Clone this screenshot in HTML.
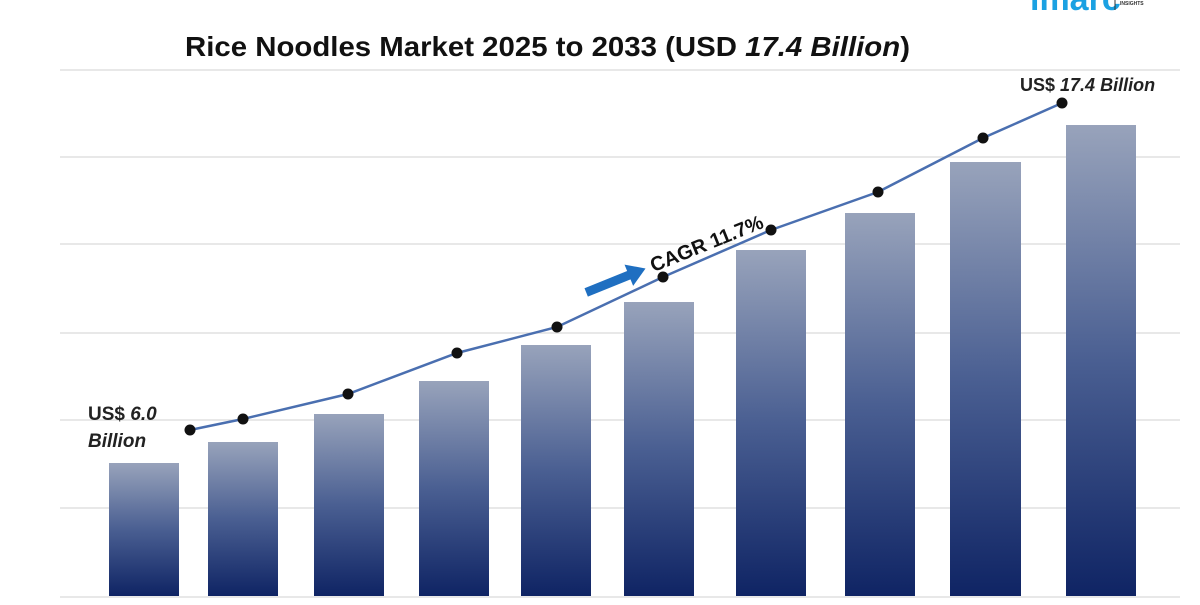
<!DOCTYPE html>
<html><head><meta charset="utf-8"><style>
body{margin:0;width:1200px;height:600px;background:#fff;overflow:hidden;font-family:"Liberation Sans",sans-serif}
</style></head><body>
<svg width="1200" height="600" xmlns="http://www.w3.org/2000/svg">
<defs><linearGradient id="g" x1="0" y1="0" x2="0" y2="1">
<stop offset="0" stop-color="#98a3bb"/><stop offset="0.5" stop-color="#4a5f92"/><stop offset="1" stop-color="#0f2464"/></linearGradient></defs>
<text x="1030" y="10" font-size="34" fill="#1ba1e2" font-weight="bold">imarc</text>
<line x1="1115" y1="0" x2="1115" y2="10" stroke="#333"/>
<text x="1120" y="5" font-size="5" fill="#333" font-weight="bold">INSIGHTS</text>
<text x="185" y="56" font-size="28" font-weight="bold" fill="#111" textLength="725" lengthAdjust="spacingAndGlyphs">Rice Noodles Market 2025 to 2033 (USD <tspan font-style="italic">17.4 Billion</tspan>)</text>
<g stroke="#d9d9d9" stroke-width="1.3">
<line x1="60" y1="70" x2="1180" y2="70"/><line x1="60" y1="157" x2="1180" y2="157"/><line x1="60" y1="244" x2="1180" y2="244"/><line x1="60" y1="333" x2="1180" y2="333"/><line x1="60" y1="420" x2="1180" y2="420"/><line x1="60" y1="508" x2="1180" y2="508"/><line x1="60" y1="597" x2="1180" y2="597"/>
</g>
<g fill="url(#g)">
<rect x="109" y="463" width="70" height="133"/><rect x="208" y="442" width="70" height="154"/><rect x="314" y="414" width="70" height="182"/><rect x="419" y="381" width="70" height="215"/><rect x="521" y="345" width="70" height="251"/><rect x="624" y="302" width="70" height="294"/><rect x="736" y="250" width="70" height="346"/><rect x="845" y="213" width="70" height="383"/><rect x="950" y="162" width="71" height="434"/><rect x="1066" y="125" width="70" height="471"/>
</g>
<polyline fill="none" stroke="#4a6fb0" stroke-width="2.5" points="190,430 243,419 348,394 457,353 557,327 663,277 771,230 878,192 983,138 1062,103"/>
<g fill="#111">
<circle cx="190" cy="430" r="5.5"/><circle cx="243" cy="419" r="5.5"/><circle cx="348" cy="394" r="5.5"/><circle cx="457" cy="353" r="5.5"/><circle cx="557" cy="327" r="5.5"/><circle cx="663" cy="277" r="5.5"/><circle cx="771" cy="230" r="5.5"/><circle cx="878" cy="192" r="5.5"/><circle cx="983" cy="138" r="5.5"/><circle cx="1062" cy="103" r="5.5"/>
</g>
<text x="88" y="420" font-size="19" font-weight="bold" fill="#222">US$ <tspan font-style="italic">6.0</tspan></text>
<text x="88" y="447" font-size="19" font-weight="bold" font-style="italic" fill="#222">Billion</text>
<text x="1020" y="91" font-size="18" font-weight="bold" fill="#222">US$ <tspan font-style="italic">17.4 Billion</tspan></text>
<g transform="translate(586,292) rotate(-22)">
<rect x="0" y="-4" width="48" height="9" fill="#1f6fc1"/>
<polygon points="46,-11 64,0.5 46,12" fill="#1f6fc1"/>
<text x="70" y="7" font-size="20" font-weight="bold" fill="#111">CAGR 11.7%</text>
</g>
</svg>
</body></html>
